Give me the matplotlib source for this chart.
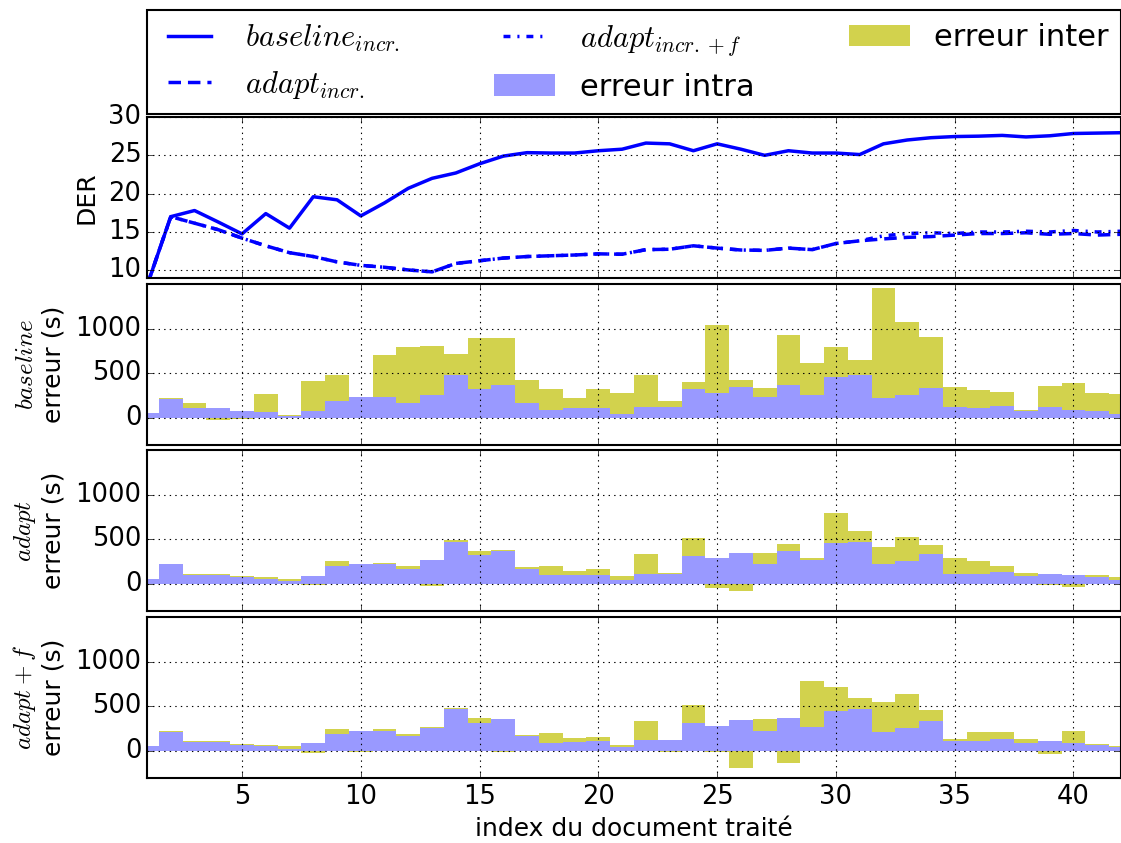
import numpy as np
import matplotlib
matplotlib.use('Agg')
import matplotlib.pyplot as plt
from matplotlib.patches import Patch
from matplotlib.lines import Line2D

plt.style.use('classic')

doc_index = np.arange(1, 43)

der_baseline = [8.0, 17.0, 17.8, 16.3, 14.75, 17.4, 15.5, 19.6, 19.2, 17.1,
                18.8, 20.7, 22.0, 22.7, 23.9, 24.9, 25.35, 25.3, 25.3, 25.6,
                25.8, 26.6, 26.5, 25.6, 26.5, 25.8, 25.0, 25.6, 25.3, 25.3,
                25.1, 26.5, 27.0, 27.3, 27.45, 27.5, 27.6, 27.4, 27.55, 27.85,
                27.9, 27.95]
der_adapt = [8.0, 17.0, 16.15, 15.3, 14.2, 13.2, 12.3, 11.8, 11.1, 10.65,
             10.4, 10.05, 9.8, 10.9, 11.25, 11.6, 11.8, 11.9, 12.0, 12.15,
             12.1, 12.7, 12.75, 13.2, 12.9, 12.65, 12.6, 12.9, 12.7, 13.5,
             13.85, 14.1, 14.3, 14.4, 14.6, 14.8, 14.8, 14.9, 14.7, 14.8,
             14.6, 14.7]
der_adapt_f = [8.0, 17.0, 16.15, 15.3, 14.2, 13.2, 12.3, 11.8, 11.1, 10.65,
               10.4, 10.05, 9.8, 10.9, 11.25, 11.6, 11.8, 11.9, 12.0, 12.15,
               12.1, 12.7, 12.75, 13.2, 12.9, 12.65, 12.6, 12.9, 12.7, 13.5,
               13.85, 14.5, 14.8, 14.9, 14.8, 15.0, 15.0, 15.1, 15.0, 15.2,
               15.0, 15.1]

# erreur intra (blue) and top of the stacked inter bar (yellow), in seconds
intra_baseline = [60, 210, 110, 110, 75, 65, 22, 85, 195, 232, 232, 165, 262, 480,
                  322, 367, 165, 86, 109, 109, 52, 120, 120, 322, 277, 345, 232,
                  367, 255, 457, 480, 221, 255, 333, 120, 115, 131, 75, 120, 86,
                  75, 52]
total_baseline = [60, 220, 165, -25, -10, 265, 30, 410, 480, 232, 704, 794, 805,
                  715, 895, 895, 427, 322, 221, 322, 277, 480, 187, 400, 1041,
                  423, 333, 929, 614, 794, 648, 1457, 1075, 906, 345, 311, 288,
                  86, 356, 390, 277, 266]
intra_adapt = [63, 220, 108, 108, 75, 63, 30, 86, 198, 231, 220, 164, 265, 477,
               321, 366, 164, 97, 108, 108, 52, 119, 119, 317, 287, 343, 231,
               366, 265, 455, 477, 220, 254, 332, 119, 119, 131, 86, 119, 97,
               75, 52]
total_adapt = [63, 231, 119, 119, 86, 75, 63, -11, 254, 231, 242, 198, -26, 489,
               366, 377, 187, 198, 142, 164, 86, 332, 130, 511, -48, -71, 354,
               444, 287, 791, 600, 421, 522, 433, 298, 254, 198, 130, -11, -34,
               108, 75]
intra_adapt_f = [56, 213, 105, 105, 67, 56, 22, 90, 191, 225, 225, 169, 258, 472,
                 315, 360, 169, 90, 101, 109, 45, 124, 124, 315, 281, 348, 225,
                 371, 266, 449, 472, 213, 255, 337, 116, 116, 135, 90, 112, 90,
                 67, 45]
total_adapt_f = [56, 225, 112, 112, 79, 67, 56, -19, 247, -11, 247, 191, 270, 483,
                 371, -11, 180, 202, 146, 157, 67, 337, -11, 517, -5, -191, 360,
                 -135, 786, 719, 595, 551, 640, 461, 135, 213, 213, 135, -30, 225,
                 79, 56]

col_intra = '#9999ff'
col_inter = '#d2d24d'

W, H = 1121, 843
fig = plt.figure(figsize=(W / 100, H / 100), dpi=100)

left = 147 / W
width = 1.0 - left
panel_h = 161
tops = [117, 284, 450, 617]


def make_ax(top, **kw):
    return fig.add_axes([left, 1 - (top + panel_h) / H, width, panel_h / H], **kw)


ax_der = make_ax(tops[0])
ax_b = make_ax(tops[1], sharex=ax_der)
ax_a = make_ax(tops[2], sharex=ax_der)
ax_f = make_ax(tops[3], sharex=ax_der)

lw = 2.5
dash = (0, (9, 5))
dashdot = (0, (5, 5, 1.5, 5))
ax_der.plot(doc_index, der_baseline, 'b-', lw=lw)
ax_der.plot(doc_index, der_adapt, 'b', ls=dash, lw=lw)
ax_der.plot(doc_index, der_adapt_f, 'b', ls=dashdot, lw=lw)
ax_der.set_ylim(9, 30)
ax_der.set_yticks([10, 15, 20, 25, 30])
ax_der.set_ylabel('DER', fontsize=18, labelpad=7)

panels = [(ax_b, intra_baseline, total_baseline, r'$baseline$'),
          (ax_a, intra_adapt, total_adapt, r'$adapt$'),
          (ax_f, intra_adapt_f, total_adapt_f, r'$adapt+f$')]
for ax, intra, total, name in panels:
    intra = np.array(intra)
    inter = np.array(total) - intra
    ax.bar(doc_index, inter, bottom=intra, width=1.0, color=col_inter,
           lw=0, align='center')
    ax.bar(doc_index, intra, width=1.0, color=col_intra, lw=0, align='center')
    ax.set_ylim(-300, 1500)
    ax.set_yticks([0, 500, 1000])
    ax.set_ylabel(name + '\nerreur (s)', fontsize=18, labelpad=7)

for ax in [ax_der, ax_b, ax_a, ax_f]:
    ax.grid(True, color='k', linestyle=':', lw=0.8)
    ax.set_axisbelow(False)
    ax.tick_params(labelsize=18.5)
    for s in ax.spines.values():
        s.set_linewidth(1.5)
    if ax is not ax_f:
        plt.setp(ax.get_xticklabels(), visible=False)

ax_f.set_xlim(1, 42)
ax_f.set_xticks([5, 10, 15, 20, 25, 30, 35, 40])
ax_f.set_xlabel('index du document traité', fontsize=18)

handles = [Line2D([], [], color='b', ls='-', lw=lw),
           Line2D([], [], color='b', ls=dash, lw=lw),
           Line2D([], [], color='b', ls=dashdot, lw=lw),
           Patch(color=col_intra, lw=0),
           Patch(color=col_inter, lw=0)]
labels = [r'$baseline_{incr.}$', r'$adapt_{incr.}$', r'$adapt_{incr.+f}$',
          'erreur intra', 'erreur inter']
leg = fig.legend(handles, labels, ncol=3, mode='expand', loc='lower left',
                 bbox_to_anchor=(left, 1 - 114 / H, width, 104 / H),
                 borderaxespad=0, fontsize=22, handlelength=2.0,
                 frameon=True, fancybox=False)
leg.get_frame().set_linewidth(1.5)
leg.get_frame().set_edgecolor('k')

fig.savefig('out.png', dpi=100)
